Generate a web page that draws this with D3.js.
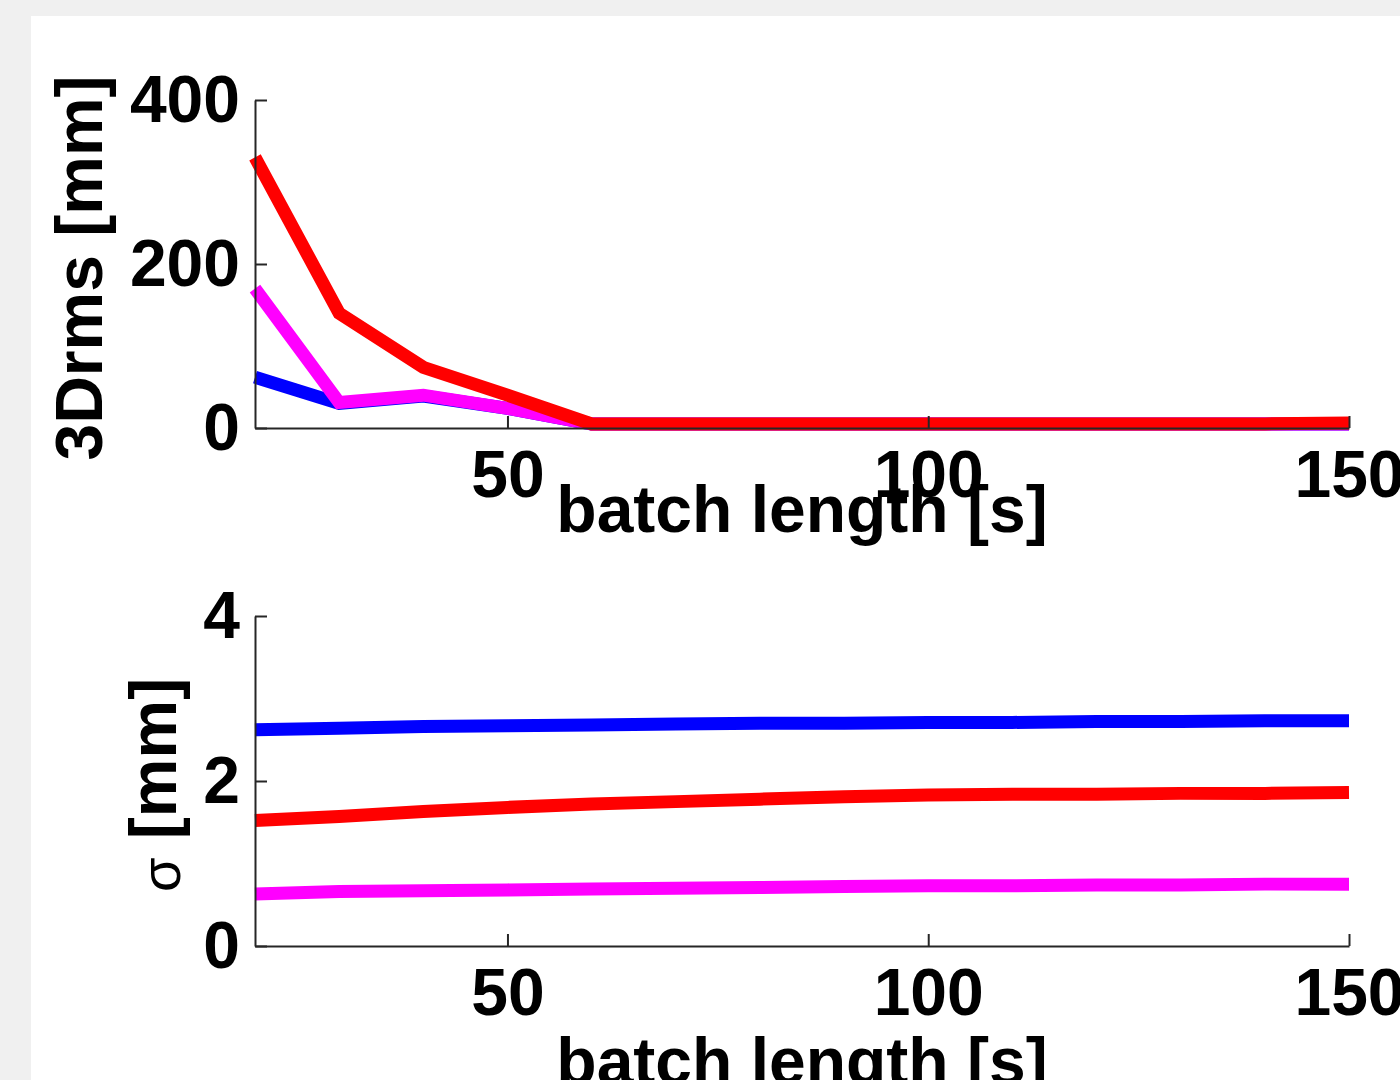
<!DOCTYPE html>
<html>
<head>
<meta charset="utf-8">
<script src="https://cdn.jsdelivr.net/npm/d3@7"></script>
<style>
  body { margin: 0; background: #f0f0f0; }
  svg text { font-family: "Liberation Sans", Arial, sans-serif; font-weight: bold; fill: #000; }
</style>
</head>
<body>
<div id="chart-area"></div>
<script>
// batch length [s]
var batchLen = [20, 30, 40, 50, 60, 70, 80, 90, 100, 110, 120, 130, 140, 150];

// top panel: 3Drms [mm]
var rmsBlue    = [62, 30, 39, 24, 5, 5, 5, 5, 5, 5, 5, 5, 5, 5];
var rmsMagenta = [170, 31, 40, 24, 5, 5, 5, 5, 5, 5, 5, 5, 5, 5];
var rmsRed     = [330, 140, 74, 40, 5, 5, 5, 5, 5, 5, 5, 5, 5, 6];

// bottom panel: sigma [mm]
var sigBlue    = [2.62, 2.64, 2.66, 2.67, 2.68, 2.69, 2.70, 2.70, 2.71, 2.71, 2.72, 2.72, 2.73, 2.73];
var sigRed     = [1.52, 1.57, 1.63, 1.68, 1.72, 1.75, 1.78, 1.81, 1.83, 1.84, 1.84, 1.85, 1.85, 1.86];
var sigMagenta = [0.63, 0.66, 0.67, 0.68, 0.69, 0.70, 0.71, 0.72, 0.73, 0.73, 0.74, 0.74, 0.75, 0.75];

var xTicks = [50, 100, 150];
var rmsTicks = [0, 200, 400];
var sigTicks = [0, 2, 4];

var width = 1400, height = 1080;

var svg = d3.select("#chart-area")
    .append("svg")
        .attr("width", width)
        .attr("height", height);

svg.append("rect")
    .attr("x", 0).attr("y", 0)
    .attr("width", width).attr("height", height)
    .attr("fill", "#f0f0f0");

svg.append("rect")
    .attr("x", 31).attr("y", 16)
    .attr("width", width - 31).attr("height", height - 16)
    .attr("fill", "#ffffff");

var x = d3.scaleLinear().domain([20, 150]).range([255, 1349]);

function panel(opts) {
    var y = d3.scaleLinear().domain(opts.yDomain).range(opts.yRange);

    var line = d3.line()
        .x(function(d, i) { return x(batchLen[i]); })
        .y(function(d) { return y(d); });

    opts.series.forEach(function(s) {
        svg.append("path")
            .datum(s.values)
            .attr("fill", "none")
            .attr("stroke", s.color)
            .attr("stroke-width", 13)
            .attr("stroke-linejoin", "miter")
            .attr("stroke-linecap", "butt")
            .attr("d", line);
    });

    var xAxis = svg.append("g")
        .attr("transform", "translate(0, " + opts.yRange[0] + ")")
        .call(d3.axisBottom(x).tickValues(xTicks).tickFormat(d3.format("d"))
            .tickSizeInner(-12).tickSizeOuter(0).tickPadding(22));

    var yAxis = svg.append("g")
        .attr("transform", "translate(" + x.range()[0] + ", 0)")
        .call(d3.axisLeft(y).tickValues(opts.yTicks).tickFormat(d3.format("d"))
            .tickSizeInner(-12).tickSizeOuter(0).tickPadding(15));

    [xAxis, yAxis].forEach(function(a) {
        a.select(".domain").attr("stroke", "#262626").attr("stroke-width", 2);
        a.selectAll(".tick line").attr("stroke", "#262626").attr("stroke-width", 2);
        a.selectAll(".tick text")
            .attr("font-size", "66px")
            .attr("font-family", "Liberation Sans, Arial, sans-serif")
            .attr("font-weight", "bold")
            .attr("fill", "#000");
    });

    svg.append("text")
        .attr("x", 802)
        .attr("y", opts.xLabelY)
        .attr("font-size", "66px")
        .attr("text-anchor", "middle")
        .text("batch length [s]");

    return y;
}

panel({
    yDomain: [0, 400], yRange: [428, 100], yTicks: rmsTicks, xLabelY: 532,
    series: [
        {values: rmsBlue, color: "#0000ff"},
        {values: rmsMagenta, color: "#ff00ff"},
        {values: rmsRed, color: "#ff0000"}
    ]
});

panel({
    yDomain: [0, 4], yRange: [946, 616], yTicks: sigTicks, xLabelY: 1084,
    series: [
        {values: sigBlue, color: "#0000ff"},
        {values: sigRed, color: "#ff0000"},
        {values: sigMagenta, color: "#ff00ff"}
    ]
});

// y labels
svg.append("text")
    .attr("transform", "translate(102, 268) rotate(-90)")
    .attr("font-size", "66px")
    .attr("text-anchor", "middle")
    .text("3Drms [mm]");

var sigLabel = svg.append("text")
    .attr("transform", "translate(176, 785) rotate(-90)")
    .attr("font-size", "66px")
    .attr("text-anchor", "middle");
sigLabel.append("tspan")
    .attr("font-weight", "normal")
    .attr("font-size", "56px")
    .attr("dy", 4)
    .text("σ");
sigLabel.append("tspan")
    .attr("dy", -4)
    .text(" [mm]");
</script>
</body>
</html>
